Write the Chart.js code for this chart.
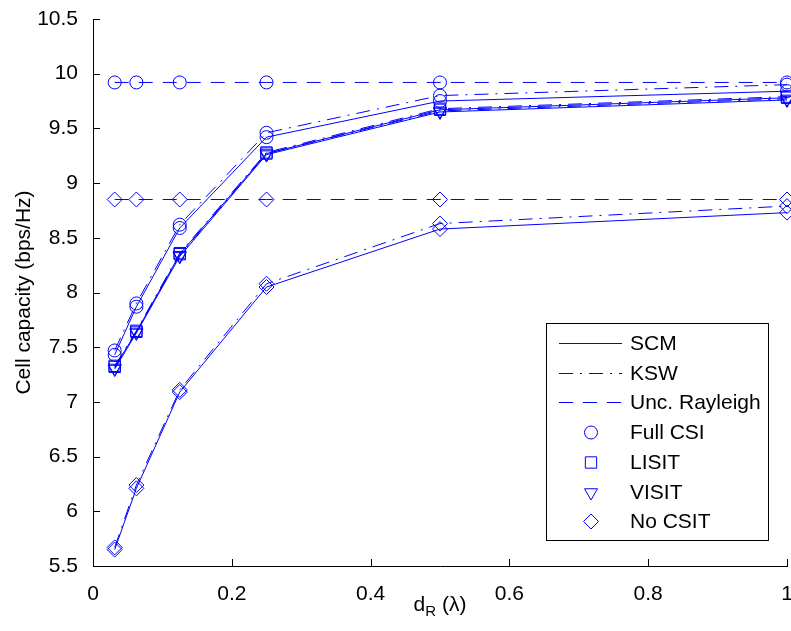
<!DOCTYPE html>
<html>
<head>
<meta charset="utf-8">
<script src="https://cdn.jsdelivr.net/npm/chart.js@4/dist/chart.umd.min.js"></script>
<style>
  html, body { margin: 0; padding: 0; background: #fff; }
  canvas { display: block; }
</style>
</head>
<body>
<canvas id="capacityChart" width="791" height="631"></canvas>
<script>
// relay distance d_R in wavelengths
const dR = [0.03125, 0.0625, 0.125, 0.25, 0.5, 1];

// cell capacity (bps/Hz)
const scmFullCsi  = [7.43, 7.87, 8.59, 9.42, 9.75, 9.84];
const kswFullCsi  = [7.47, 7.90, 8.62, 9.46, 9.80, 9.90];
const uncFullCsi  = [9.92, 9.92, 9.92, 9.92, 9.92, 9.92];
const scmLisit    = [7.32, 7.64, 8.35, 9.27, 9.67, 9.78];
const kswLisit    = [7.33, 7.65, 8.36, 9.28, 9.68, 9.79];
const scmVisit    = [7.30, 7.63, 8.33, 9.26, 9.65, 9.76];
const kswVisit    = [7.31, 7.64, 8.34, 9.27, 9.66, 9.77];
const scmNoCsit   = [5.65, 6.21, 7.09, 8.05, 8.58, 8.73];
const kswNoCsit   = [5.67, 6.24, 7.11, 8.08, 8.63, 8.79];
const uncNoCsit   = [8.85, 8.85, 8.85, 8.85, 8.85, 8.85];

const yTicks = [5.5, 6, 6.5, 7, 7.5, 8, 8.5, 9, 9.5, 10, 10.5];
const xTicks = [0, 0.2, 0.4, 0.6, 0.8, 1];

const legendLabels = ['SCM', 'KSW', 'Unc. Rayleigh', 'Full CSI', 'LISIT', 'VISIT', 'No CSIT'];

const BLUE = 'rgb(0,0,255)';
const FONT = '"Liberation Sans", Arial, Helvetica, sans-serif';
const SOLID = [];
const DASHED = [14, 10];
const DASHDOT = [14, 7, 2, 7];

const MARK = {
  circle:   { pointStyle: 'circle',   radius: 6.5, rotation: 0 },
  square:   { pointStyle: 'rect',     radius: 8,   rotation: 0 },
  triangle: { pointStyle: 'triangle', radius: 7.5, rotation: 180 },
  diamond:  { pointStyle: 'rectRot',  radius: 7.5, rotation: 0 }
};

function series(label, values, dash, mark) {
  return {
    label: label,
    data: dR.map((x, i) => ({ x: x, y: values[i] })),
    borderColor: BLUE,
    borderWidth: 1,
    borderDash: dash,
    pointStyle: mark.pointStyle,
    pointRadius: mark.radius,
    pointRotation: mark.rotation,
    pointBorderColor: BLUE,
    pointBackgroundColor: 'rgba(0,0,0,0)',
    pointBorderWidth: 1,
    tension: 0,
    fill: false,
    clip: false
  };
}

const datasets = [
  series('SCM Full CSI', scmFullCsi, SOLID, MARK.circle),
  series('KSW Full CSI', kswFullCsi, DASHDOT, MARK.circle),
  series('Unc. Rayleigh Full CSI', uncFullCsi, DASHED, MARK.circle),
  series('SCM LISIT', scmLisit, SOLID, MARK.square),
  series('KSW LISIT', kswLisit, DASHDOT, MARK.square),
  series('SCM VISIT', scmVisit, SOLID, MARK.triangle),
  series('KSW VISIT', kswVisit, DASHDOT, MARK.triangle),
  series('SCM No CSIT', scmNoCsit, SOLID, MARK.diamond),
  series('KSW No CSIT', kswNoCsit, DASHDOT, MARK.diamond),
  series('Unc. Rayleigh No CSIT', uncNoCsit, DASHED, MARK.diamond)
];

function drawMarker(ctx, mark, x, y) {
  const r = mark.radius;
  ctx.beginPath();
  if (mark.pointStyle === 'circle') {
    ctx.arc(x, y, r, 0, Math.PI * 2);
  } else if (mark.pointStyle === 'rect') {
    const s = r * Math.SQRT1_2;
    ctx.rect(x - s, y - s, 2 * s, 2 * s);
  } else if (mark.pointStyle === 'triangle') {
    const h = r * Math.sqrt(3) / 2;
    ctx.moveTo(x - h, y - r / 2);
    ctx.lineTo(x + h, y - r / 2);
    ctx.lineTo(x, y + r);
    ctx.closePath();
  } else {
    ctx.moveTo(x, y - r);
    ctx.lineTo(x + r, y);
    ctx.lineTo(x, y + r);
    ctx.lineTo(x - r, y);
    ctx.closePath();
  }
  ctx.stroke();
}

// axes with inward ticks, legend box and the x title with subscript
const axesAndLegend = {
  id: 'axesAndLegend',
  afterDraw(chart) {
    const ctx = chart.ctx;
    const a = chart.chartArea;
    const xs = chart.scales.x, ys = chart.scales.y;
    ctx.save();

    ctx.strokeStyle = '#000';
    ctx.lineWidth = 1;
    ctx.setLineDash([]);
    ctx.beginPath();
    ctx.moveTo(a.left + 0.5, a.top);
    ctx.lineTo(a.left + 0.5, a.bottom + 0.5);
    ctx.lineTo(a.right + 1, a.bottom + 0.5);
    ctx.stroke();

    ctx.beginPath();
    yTicks.forEach(v => {
      const py = Math.round(ys.getPixelForValue(v)) + 0.5;
      ctx.moveTo(a.left, py);
      ctx.lineTo(a.left + 7, py);
    });
    xTicks.forEach(v => {
      const px = Math.round(xs.getPixelForValue(v)) + 0.5;
      ctx.moveTo(px, a.bottom);
      ctx.lineTo(px, a.bottom - 7);
    });
    ctx.stroke();

    // legend
    const w = 222, h = 217;
    const x0 = a.right - 241, y0 = a.bottom - 243;
    ctx.fillStyle = '#fff';
    ctx.fillRect(x0, y0, w, h);
    ctx.strokeStyle = '#000';
    ctx.strokeRect(x0 + 0.5, y0 + 0.5, w, h);

    const lineStyles = [SOLID, DASHDOT, DASHED];
    const marks = [MARK.circle, MARK.square, MARK.triangle, MARK.diamond];
    ctx.font = '21px ' + FONT;
    ctx.textBaseline = 'middle';
    ctx.textAlign = 'left';
    legendLabels.forEach((text, i) => {
      const cy = Math.round(y0 + 20 + i * 29.7) + 0.5;
      ctx.strokeStyle = BLUE;
      ctx.lineWidth = 1;
      if (i < 3) {
        ctx.setLineDash(lineStyles[i]);
        ctx.beginPath();
        ctx.moveTo(x0 + 13, cy);
        ctx.lineTo(x0 + 76, cy);
        ctx.stroke();
      } else {
        ctx.setLineDash([]);
        drawMarker(ctx, marks[i - 3], x0 + 45, cy);
      }
      ctx.fillStyle = '#000';
      ctx.fillText(text, x0 + 84, cy + 1);
    });

    // x title: d_R (λ)
    ctx.setLineDash([]);
    ctx.fillStyle = '#000';
    ctx.textBaseline = 'alphabetic';
    const big = '21px ' + FONT, small = '15px ' + FONT;
    ctx.font = big;
    const wD = ctx.measureText('d').width;
    const wRest = ctx.measureText(' (λ)').width;
    ctx.font = small;
    const wR = ctx.measureText('R').width;
    const cx = (a.left + a.right) / 2;
    let tx = cx - (wD + wR + wRest) / 2;
    const base = 611;
    ctx.font = big;
    ctx.fillText('d', tx, base);
    tx += wD;
    ctx.font = small;
    ctx.fillText('R', tx, base + 5);
    tx += wR;
    ctx.font = big;
    ctx.fillText(' (λ)', tx, base);

    ctx.restore();
  }
};

new Chart(document.getElementById('capacityChart').getContext('2d'), {
  type: 'line',
  data: { datasets: datasets },
  options: {
    responsive: false,
    animation: false,
    devicePixelRatio: 1,
    layout: { autoPadding: false, padding: { top: 19, right: 4, left: 0, bottom: 0 } },
    plugins: {
      legend: { display: false },
      tooltip: { enabled: false }
    },
    scales: {
      x: {
        type: 'linear',
        min: 0,
        max: 1,
        grid: { display: false },
        border: { display: false },
        afterBuildTicks: s => { s.ticks = xTicks.map(v => ({ value: v })); },
        ticks: {
          padding: 8,
          color: '#000',
          font: { family: FONT, size: 21 },
          maxRotation: 0,
          callback: v => String(Math.round(v * 10) / 10)
        },
        afterFit: s => { s.height = 65; s.paddingLeft = 0; s.paddingRight = 0; }
      },
      y: {
        min: 5.5,
        max: 10.5,
        grid: { display: false },
        border: { display: false },
        afterBuildTicks: s => { s.ticks = yTicks.map(v => ({ value: v })); },
        ticks: {
          padding: 7,
          color: '#000',
          font: { family: FONT, size: 21 },
          callback: v => String(v)
        },
        title: {
          display: true,
          text: 'Cell capacity (bps/Hz)',
          color: '#000',
          font: { family: FONT, size: 21 },
          padding: { top: 12, bottom: 0 }
        },
        afterFit: s => { s.width = 93; s.paddingTop = 0; s.paddingBottom = 0; }
      }
    }
  },
  plugins: [axesAndLegend]
});
</script>
</body>
</html>
